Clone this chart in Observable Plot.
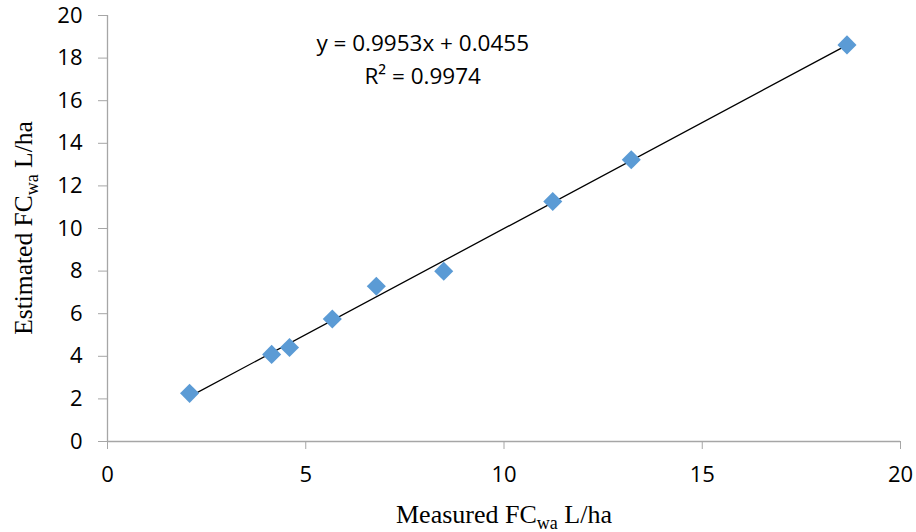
<!DOCTYPE html>
<html>
<head>
<meta charset="utf-8">
<script src="https://cdn.jsdelivr.net/npm/d3@7"></script>
<script src="https://cdn.jsdelivr.net/npm/@observablehq/plot@0.6"></script>
<style>
  html, body { margin: 0; padding: 0; background: #fff; }
  #chart svg { display: block; }
</style>
</head>
<body>
<div id="chart"></div>
<script>
// Measured vs estimated FCwa (L/ha)
const measured  = [2.07, 4.14, 4.59, 5.67, 6.78, 8.48, 11.23, 13.21, 18.65];
const estimated = [2.26, 4.09, 4.41, 5.75, 7.29, 7.99, 11.27, 13.23, 18.62];

// Linear trendline
const slope = 0.9953;
const intercept = 0.0455;
const rSquared = 0.9974;

const xTicks = [0, 5, 10, 15, 20];
const yTicks = [0, 2, 4, 6, 8, 10, 12, 14, 16, 18, 20];

const points = measured.map((x, i) => ({x, y: estimated[i]}));
const xMin = d3.min(measured), xMax = d3.max(measured);
const fit = [xMin, xMax].map(x => ({x, y: slope * x + intercept}));

const axisColor = "#a6a6a6";
const tickFont = "'Open Sans', sans-serif";

const plot = Plot.plot({
  width: 916,
  height: 532,
  marginLeft: 107,
  marginRight: 16,
  marginTop: 15,
  marginBottom: 91,
  style: {fontFamily: tickFont, fontSize: "22px", color: "#000", background: "#fff"},
  x: {domain: [0, 20], ticks: xTicks, label: null},
  y: {domain: [0, 20], ticks: yTicks, label: null},
  marks: [
    Plot.ruleY([0], {stroke: axisColor, strokeWidth: 1.3}),
    Plot.ruleX([0], {stroke: axisColor, strokeWidth: 1.3}),
    Plot.axisX({ticks: xTicks, tickSize: 8, stroke: axisColor, tickPadding: 17, fontSize: 22, tickFormat: d => d}),
    Plot.axisY({ticks: yTicks, tickSize: 9, stroke: axisColor, tickPadding: 16, fontSize: 22, tickFormat: d => d}),
    Plot.line(fit, {x: "x", y: "y", stroke: "#000", strokeWidth: 1.3}),
    Plot.dot(points, {x: "x", y: "y", symbol: "diamond2", r: 8.6, fill: "#5b9bd5", stroke: "none"}),
    Plot.text([`y = ${slope}x + ${intercept}`], {x: 7.95, y: 18.65, fontSize: 22.5, fill: "#000"}),
    Plot.text([`R² = ${rSquared}`], {x: 7.95, y: 17.12, fontSize: 22.5, fill: "#000"})
  ]
});

// Axis titles with subscripts
const svg = d3.select(plot);
const serif = "'Liberation Serif', 'Times New Roman', serif";

const xt = svg.append("text")
  .attr("x", 504).attr("y", 523)
  .attr("text-anchor", "middle")
  .attr("font-family", serif).attr("font-size", 26).attr("fill", "#000");
xt.append("tspan").text("Measured FC");
xt.append("tspan").attr("dy", 6).attr("font-size", 18).text("wa");
xt.append("tspan").attr("dy", -6).text(" L/ha");

const yt = svg.append("text")
  .attr("transform", "translate(32,228) rotate(-90)")
  .attr("text-anchor", "middle")
  .attr("font-family", serif).attr("font-size", 25.5).attr("fill", "#000");
yt.append("tspan").text("Estimated FC");
yt.append("tspan").attr("dy", 6).attr("font-size", 18).text("wa");
yt.append("tspan").attr("dy", -6).text(" L/ha");

document.getElementById("chart").appendChild(plot);
</script>
</body>
</html>
